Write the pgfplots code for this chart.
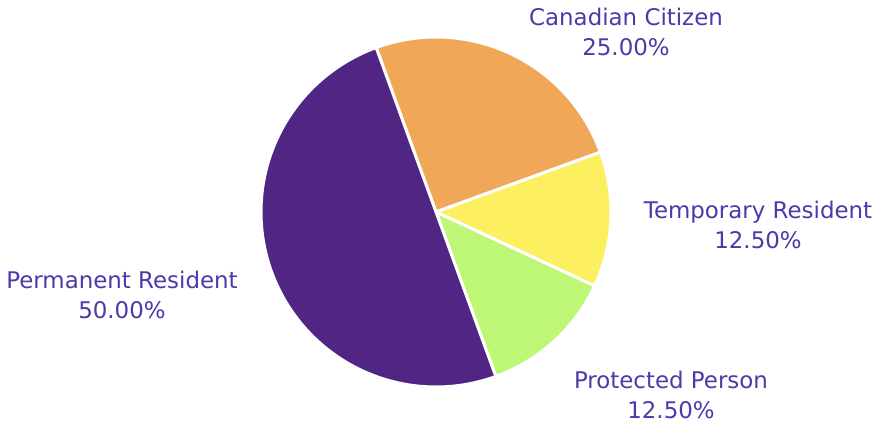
\documentclass[border=0pt]{standalone}
\usepackage{pgfplots}
\pgfplotsset{compat=1.18}
\usepgfplotslibrary{polar}
\usepackage{fontspec}
\setmainfont{DejaVu Sans}
\definecolor{cpr}{RGB}{81,37,132}
\definecolor{ccc}{RGB}{240,168,88}
\definecolor{ctr}{RGB}{252,240,96}
\definecolor{cpp}{RGB}{190,247,117}
\definecolor{ctxt}{RGB}{74,58,170}
\begin{document}
\begin{tikzpicture}
\useasboundingbox (0,0) rectangle (878bp,424bp);
\begin{polaraxis}[
  hide axis, scale only axis, width=350bp, height=350bp,
  ymin=0, ymax=1, at={(436bp,212bp)}, anchor=center,
  clip=false]
% shares: Canadian Citizen 25, Temporary Resident 12.5, Protected Person 12.5, Permanent Resident 50 (start 110 deg, clockwise)
\addplot[fill=ccc, draw=white, line width=3bp, domain=20:110, samples=60] {1} -- (axis cs:0,0) -- cycle;
\addplot[fill=ctr, draw=white, line width=3bp, domain=-25:20, samples=40] {1} -- (axis cs:0,0) -- cycle;
\addplot[fill=cpp, draw=white, line width=3bp, domain=-70:-25, samples=40] {1} -- (axis cs:0,0) -- cycle;
\addplot[fill=cpr, draw=white, line width=3bp, domain=110:290, samples=100] {1} -- (axis cs:0,0) -- cycle;
\end{polaraxis}
\begin{scope}[every node/.style={text=ctxt, font=\fontsize{23}{31}\selectfont, align=center, inner sep=0pt}]
\node at (626bp,392bp) {Canadian Citizen\\25.00\%};
\node at (758bp,199bp) {Temporary Resident\\12.50\%};
\node at (122bp,129bp) {Permanent Resident\\50.00\%};
\node at (671bp,29bp) {Protected Person\\12.50\%};
\end{scope}
\end{tikzpicture}
\end{document}
